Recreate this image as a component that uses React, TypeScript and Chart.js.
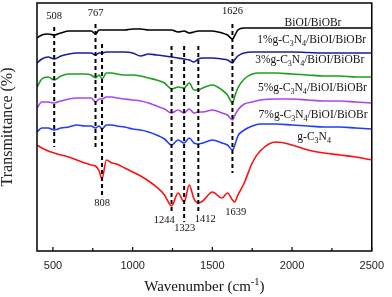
import React, { useEffect, useRef } from "react";
import { Chart, registerables } from "chart.js";

Chart.register(...registerables);

// ---------- data ----------
const wavenumbers = [400, 430, 470, 508, 550, 600, 650, 700, 740, 767, 790, 808, 835, 870, 900, 950, 1000, 1050, 1100, 1150, 1200, 1244, 1285, 1323, 1355, 1385, 1412, 1440, 1500, 1560, 1595, 1626, 1639, 1660, 1700, 1750, 1800, 1900, 2000, 2100, 2200, 2300, 2400, 2500];

const seriesNames = ["BiOI/BiOBr", "1%g-C₃N₄/BiOI/BiOBr", "3%g-C₃N₄/BiOI/BiOBr", "5%g-C₃N₄/BiOI/BiOBr", "7%g-C₃N₄/BiOI/BiOBr", "g-C₃N₄"];

const biOIBiOBr = [213, 216, 217, 216, 218, 220, 220, 220, 220, 217, 221, 221, 221, 221, 221, 221, 222, 222, 221, 221, 221, 221, 219, 220, 218, 219, 220, 220, 220, 218, 216, 212, 215, 221, 223, 223, 223, 223, 223, 223, 223, 223, 223, 223];
const cn1 = [188, 192, 194, 192, 195, 197, 198, 198, 198, 196, 198, 198, 199, 199, 199, 199, 198, 195, 197, 196, 195, 194, 193, 192, 191, 189, 192, 193, 193, 192, 191, 188, 191, 195, 198, 199, 199, 199, 199, 198.5, 198, 198, 198, 198];
const cn3 = [164, 172, 174, 171, 175, 177, 177, 177, 176, 173, 176, 172, 178, 178, 177, 176, 176, 175, 173, 171, 168, 162, 164, 163, 168, 161, 161, 163, 166, 161, 156, 148, 154, 163, 172, 177, 178, 178, 177, 176, 175, 175, 174, 174];
const cn5 = [143, 149, 149, 148, 150, 152, 153, 153, 153, 149, 152, 152, 154, 154, 153, 152, 151, 150, 148, 145, 142, 138, 141, 138, 142, 138, 139, 139, 141, 138, 136, 131, 135, 141, 147, 149, 151, 152, 152, 151, 150, 150, 149, 148];
const cn7 = [119, 123, 123, 121, 123, 124, 126, 125, 125, 123, 125, 122, 126, 126, 125, 124, 122, 121, 119, 116, 112, 106, 111, 108, 113, 108, 107, 108, 111, 108, 106, 101, 105, 115, 121, 125, 127, 127, 126, 125, 124, 124, 123, 122];
const gC3N4 = [106, 103, 100, 98, 96, 94, 91, 88, 86, 85, 80, 72, 91, 88, 87, 83, 79, 75, 70, 64, 56, 45, 58, 49, 66, 52, 48, 50, 59, 53, 58, 51, 49, 56, 68, 88, 100, 109, 106, 101, 98, 96, 94, 91];

const seriesValues = [biOIBiOBr, cn1, cn3, cn5, cn7, gC3N4];

// dashed peak markers (wavenumber, top value, bottom value)
const markerWavenumbers = [508, 767, 808, 1244, 1323, 1412, 1626];
const markerTop = [224, 227, 207, 205, 205, 205, 227];
const markerBottom = [104, 102, 55, 37, 29, 39, 78];

// peak labels
const peakLabels = ["508", "767", "1626", "808", "1244", "1323", "1412", "1639"];
const peakLabelX = [508, 767, 1626, 808, 1198, 1327, 1456, 1647];
const peakLabelY = [235, 238, 240, 48, 31, 23, 32, 39];

// series label anchors (left edge, in data units)
const seriesLabelX = [1953, 1781, 1769, 1786, 1790, 2033];
const seriesLabelY = [228, 211, 191, 163, 136, 114];

// axis ticks
const xTickValues = [500, 1000, 1500, 2000, 2500];
const xMinorTickValues = [750, 1250, 1750, 2250];

const xTitle = "Wavenumber (cm⁻¹)";
const yTitle = "Transmittance (%)";

// ---------- styles ----------
const colors = ["#000000", "#1c1c9c", "#1c9e1c", "#aa46ee", "#1f3cff", "#ff1010"];
const SERIF = "'Liberation Serif', 'Times New Roman', serif";
const SANS = "'Liberation Sans', Arial, sans-serif";

const SUBS: Record<string, string> = { "₀": "0", "₁": "1", "₂": "2", "₃": "3", "₄": "4", "₅": "5", "₆": "6", "₇": "7", "₈": "8", "₉": "9" };
const SUPS: Record<string, string> = { "⁻": "-", "¹": "1", "²": "2", "³": "3" };

function richParts(text: string) {
  const parts: { t: string; kind: "n" | "sub" | "sup" }[] = [];
  for (const ch of text) {
    const kind = SUBS[ch] ? "sub" : SUPS[ch] ? "sup" : "n";
    const t = SUBS[ch] || SUPS[ch] || ch;
    const last = parts[parts.length - 1];
    if (last && last.kind === kind) last.t += t;
    else parts.push({ t, kind });
  }
  return parts;
}

function drawRich(ctx: CanvasRenderingContext2D, text: string, x: number, y: number, size: number, align: "left" | "center") {
  const parts = richParts(text);
  const small = size * 0.7;
  const widths = parts.map((p) => {
    ctx.font = `${p.kind === "n" ? size : small}px ${SERIF}`;
    return ctx.measureText(p.t).width;
  });
  const total = widths.reduce((a, b) => a + b, 0);
  let cx = align === "center" ? x - total / 2 : x;
  ctx.textBaseline = "middle";
  ctx.textAlign = "left";
  parts.forEach((p, i) => {
    ctx.font = `${p.kind === "n" ? size : small}px ${SERIF}`;
    const dy = p.kind === "sub" ? size * 0.3 : p.kind === "sup" ? -size * 0.35 : 0;
    ctx.fillText(p.t, cx, y + dy);
    cx += widths[i];
  });
}

const overlayPlugin = {
  id: "overlay",
  afterDatasetsDraw(chart: any) {
    const { ctx, chartArea, scales } = chart;
    const xs = scales.x;
    const ys = scales.y;
    ctx.save();
    // frame
    ctx.strokeStyle = "#000";
    ctx.lineWidth = 1.5;
    ctx.strokeRect(chartArea.left, chartArea.top, chartArea.right - chartArea.left, chartArea.bottom - chartArea.top);
    // inward ticks
    ctx.lineWidth = 1.2;
    ctx.beginPath();
    xTickValues.forEach((v) => {
      const px = xs.getPixelForValue(v);
      ctx.moveTo(px, chartArea.bottom);
      ctx.lineTo(px, chartArea.bottom - 4);
    });
    xMinorTickValues.forEach((v) => {
      const px = xs.getPixelForValue(v);
      ctx.moveTo(px, chartArea.bottom);
      ctx.lineTo(px, chartArea.bottom - 3);
    });
    ctx.stroke();
    // peak labels
    ctx.fillStyle = "#111";
    peakLabels.forEach((t, i) => {
      drawRich(ctx, t, xs.getPixelForValue(peakLabelX[i]), ys.getPixelForValue(peakLabelY[i]), 10.5, "center");
    });
    // series labels
    seriesNames.forEach((t, i) => {
      drawRich(ctx, t, xs.getPixelForValue(seriesLabelX[i]), ys.getPixelForValue(seriesLabelY[i]), 11.5, "left");
    });
    // x title
    drawRich(ctx, xTitle, (chartArea.left + chartArea.right) / 2, 287, 15, "center");
    ctx.restore();
  },
};

export default function App() {
  const ref = useRef<HTMLCanvasElement>(null);
  useEffect(() => {
    document.body.style.margin = "0";
    const canvas = ref.current!;
    const seriesDatasets = seriesValues.map((vals, si) => ({
      label: seriesNames[si],
      data: wavenumbers.map((x, i) => ({ x, y: vals[i] })),
      borderColor: colors[si],
      backgroundColor: colors[si],
      borderWidth: 1.6,
      pointRadius: 0,
      cubicInterpolationMode: "monotone" as const,
      fill: false,
      order: 1,
    }));
    const markerDatasets = markerWavenumbers.map((w, i) => ({
      label: `peak ${w}`,
      data: [
        { x: w, y: markerTop[i] },
        { x: w, y: markerBottom[i] },
      ],
      borderColor: "#000",
      borderWidth: 2,
      borderDash: [4, 3],
      pointRadius: 0,
      fill: false,
      order: 0,
    }));
    const chart = new Chart(canvas, {
      type: "line",
      data: { datasets: [...seriesDatasets, ...markerDatasets] as any },
      options: {
        responsive: false,
        animation: false,
        layout: { padding: { top: 3, right: 13, left: 0, bottom: 0 } },
        plugins: { legend: { display: false }, tooltip: { enabled: false } },
        scales: {
          x: {
            type: "linear",
            min: 400,
            max: 2500,
            grid: { display: false, drawTicks: false },
            border: { display: false },
            afterBuildTicks: (scale: any) => {
              scale.ticks = xTickValues.map((v) => ({ value: v }));
            },
            afterFit: (scale: any) => {
              scale.height = 46;
            },
            ticks: {
              padding: 8,
              color: "#222",
              font: { family: SANS, size: 11 },
              maxRotation: 0,
              autoSkip: false,
              callback: (v: any) => String(v),
            },
          },
          y: {
            type: "linear",
            min: 0,
            max: 248,
            grid: { display: false, drawTicks: false },
            border: { display: false },
            ticks: { display: false },
            afterFit: (scale: any) => {
              scale.width = 37;
            },
            title: {
              display: true,
              text: yTitle,
              color: "#222",
              font: { family: SERIF, size: 16, lineHeight: 1 },
              padding: 0,
            },
          },
        },
      },
      plugins: [overlayPlugin],
    });
    return () => chart.destroy();
  }, []);
  return (
    <div style={{ width: 392, height: 297 }}>
      <canvas ref={ref} width={392} height={297} style={{ display: "block" }} />
    </div>
  );
}
